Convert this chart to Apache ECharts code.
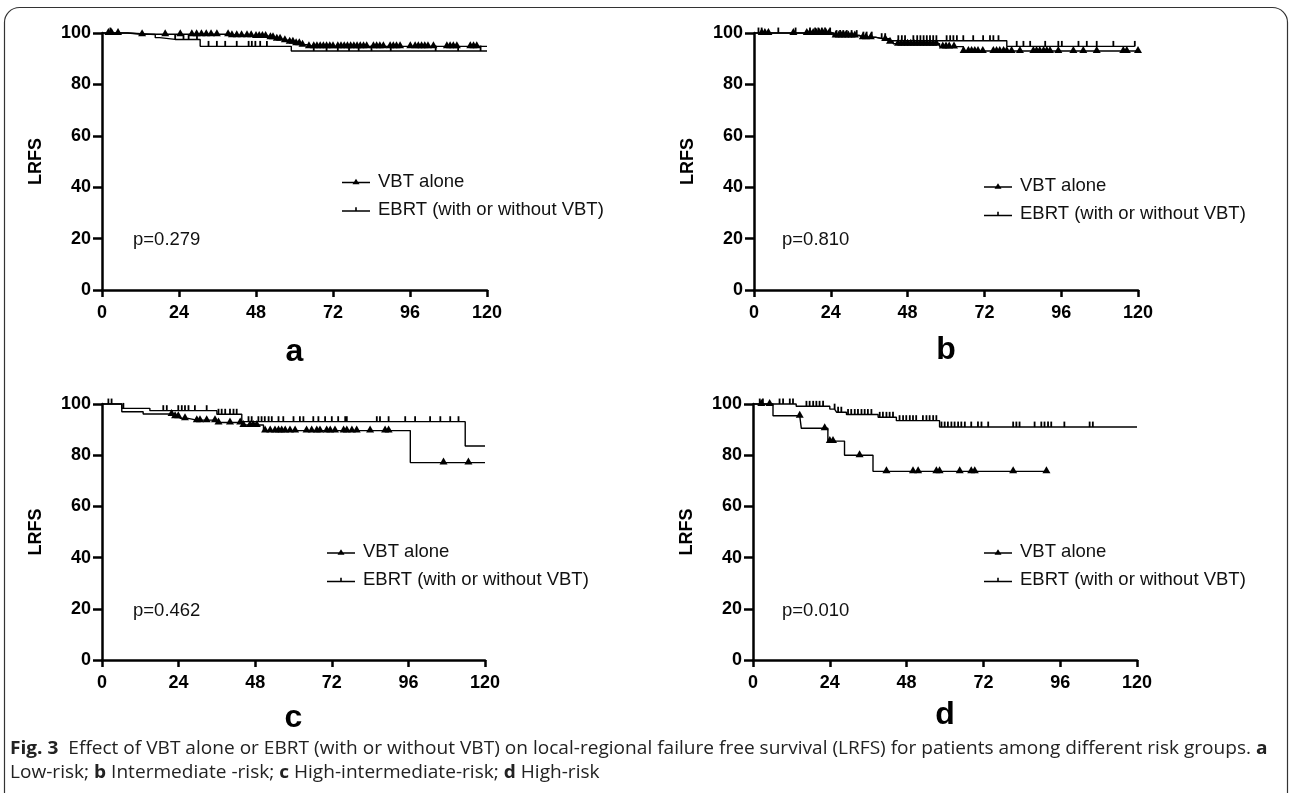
<!DOCTYPE html>
<html>
<head>
<meta charset="utf-8">
<script src="https://cdn.jsdelivr.net/npm/echarts@6/dist/echarts.min.js"></script>
<style>
  html, body { margin: 0; padding: 0; background: #fff; }
  #chart { width: 1290px; height: 793px; }
</style>
</head>
<body>
<div id="chart"></div>
<script>
// ---------------- DATA ----------------
const seriesNames = ['VBT alone', 'EBRT (with or without VBT)'];
const panelLetters = ['a', 'b', 'c', 'd'];
const pValues = ['p=0.279', 'p=0.810', 'p=0.462', 'p=0.010'];
const yAxisTitle = 'LRFS';

// Panel a (Low-risk): step points [month, LRFS %] and censor times (months)
const vbtStepsA = [[0,100],[8,99.5],[40,99.1],[47,98.8],[52,98.3],[54,97.8],[56,97.2],[58,96.6],[60,96],[62,95.4],[64,94.8]];
const vbtCensA = [2,3,5,12.5,19.7,24.4,28,29.5,31,32.5,34,35.8,39.3,40.5,42,43.5,45.2,46.5,48,49,50,51,52.5,53.3,54.5,55.5,57,58.5,59.5,60.5,61.5,62.5,64.5,66,67,68,69,70,71,72,73.5,74.5,75.5,76.5,77.5,78.5,79.5,80.5,81.5,82.5,84.6,85.6,86.6,87.7,89.8,90.8,91.8,92.9,96.1,97.6,98.6,99.6,100.6,101.6,103.3,107.5,108.5,109.5,110.6,114.8,115.8,116.8];
const vbtEndA = 120;
const ebrtStepsA = [[0,100],[8,99.4],[16.6,98.2],[18,97.5],[30.6,94.8],[59,93]];
const ebrtCensA = [2.6,22.8,25.4,27,29.6,33.2,35.8,38.4,42,45.7,46.7,47.8,49.3,51.4,66,70,73.5,77,80,84,90,104,111,118];
const ebrtEndA = 120;

// Panel b (Intermediate-risk)
const vbtStepsB = [[0,100],[24.8,99],[33,98.3],[38,97.7],[42,96.6],[43.5,95.8],[58,94.7],[65.4,93]];
const vbtCensB = [2.4,3.4,4.5,12.3,16.5,17.5,18.5,19.5,20.5,21.5,22.5,23.5,25.5,26.5,27.5,28.5,29.5,30.5,31.5,34,35,36.5,41,42.5,45,46,47,48,49,50,51,52,53,54,55,56,57,59,60,61,62.5,65.5,67,68,69,70,71.5,74.8,75.8,76.8,78,79,80.5,83.1,87.3,88.3,89.3,90.5,91.5,92.5,95.1,99.8,102.9,107.1,115.4,116.5,120];
const vbtEndB = 120;
const ebrtStepsB = [[0,100],[24.8,99],[33,98.4],[38,97.8],[42.5,97],[79,94.8]];
const ebrtCensB = [1.4,2.4,7.6,13,17.5,19.1,20.1,21.2,22.2,23.8,25.8,26.9,27.9,29,30.5,32.1,34.2,35.2,36.8,39.9,41,45.1,46.2,47.2,49.8,51,52,53,54,55,56,57,60.2,61.3,62.3,63.4,65.4,68.5,71.6,73.75,74.8,76.4,82.1,84.2,86.3,91,95.1,96.2,101.4,104,107.1,112.3,119];
const ebrtEndB = 119;

// Panel c (High-intermediate-risk)
const vbtStepsC = [[0,100],[6.2,97],[12.9,96.1],[22.5,95.2],[24.5,94.4],[27,93.7],[36,92.8],[44.3,91.8],[50.6,89.6],[96.6,77.1]];
const vbtCensC = [21.8,22.9,23.9,26,29.7,30.7,32.8,35.4,36.5,40.1,43.3,44.3,46.4,47.4,48.5,51.1,52.7,54.2,55.3,56.3,57.4,58.9,60.5,64.1,65.7,67.3,68.3,70.4,71.5,73,75.7,76.7,78.3,79.8,84,88.7,89.8,107,114.8];
const vbtEndC = 120;
const ebrtStepsC = [[0,100],[6.2,98.3],[15,97.4],[36,96],[43.8,93.1],[113.8,83.6]];
const ebrtCensC = [2,3,6.7,19.2,20.3,23.9,25,26,27.1,29.1,32.8,36.5,37.5,38.6,40.1,41.2,42.2,45.9,46.9,49,50,51,52.2,53.2,55.3,56.8,60,62,63.1,66.2,67.8,69.9,72,74,76.2,76.7,86.1,87.1,89.8,95,98.1,102.8,106,109.1,111.7];
const ebrtEndC = 120;

// Panel d (High-risk)
const vbtStepsD = [[0,100],[6.25,95.4],[15.1,90.5],[23.4,85.5],[28.6,80],[37.5,73.7]];
const vbtCensD = [2.6,5.2,14.6,22.4,24,25,33.3,41.7,50,51.6,57.3,58.3,64.6,68.2,69.3,81.3,91.7];
const vbtEndD = 91.7;
const ebrtStepsD = [[0,100],[13.5,99.1],[24,98],[26.1,96.8],[29.2,95.9],[39.1,94.8],[44.8,93.5],[58.3,91]];
const ebrtCensD = [2.1,3.1,8.3,9.4,11.5,12.5,16.7,17.7,18.8,19.8,20.8,21.9,25.5,26.6,27.6,29.7,30.7,31.8,32.8,33.9,34.9,35.9,37,39.6,40.6,41.7,42.7,43.75,45.8,46.9,47.9,49,50,51,53.1,54.2,55.2,56.3,57.3,58.9,59.9,60.9,62,63,64.1,65.1,66.2,68.2,70.3,71.4,73.5,81.3,82.3,83.3,88,90.1,91.1,92.2,93.2,97.3,105.2,106.2];
const ebrtEndD = 120;

const captionLine1 = '{b|Fig. 3}  Effect of VBT alone or EBRT (with or without VBT) on local-regional failure free survival (LRFS) for patients among different risk groups. {b|a}';
const captionLine2 = 'Low-risk; {b|b} Intermediate -risk; {b|c} High-intermediate-risk; {b|d} High-risk';

// ---------------- LAYOUT ----------------
const grids = [
  { left: 102, top: 33, width: 385, height: 257 },
  { left: 754, top: 33, width: 384, height: 257 },
  { left: 102, top: 404, width: 383, height: 256 },
  { left: 753, top: 404, width: 384, height: 256 }
];
const letterGaps = [46, 44, 42, 39];
const legendPos = [
  { left: 342, top: 172 },
  { left: 984, top: 176.5 },
  { left: 327, top: 542.5 },
  { left: 984, top: 542.5 }
];
const pPos = [[133, 240], [782, 240], [133, 611], [782, 611]];

const curves = [
  [vbtStepsA, vbtCensA, vbtEndA, ebrtStepsA, ebrtCensA, ebrtEndA],
  [vbtStepsB, vbtCensB, vbtEndB, ebrtStepsB, ebrtCensB, ebrtEndB],
  [vbtStepsC, vbtCensC, vbtEndC, ebrtStepsC, ebrtCensC, ebrtEndC],
  [vbtStepsD, vbtCensD, vbtEndD, ebrtStepsD, ebrtCensD, ebrtEndD]
];

function buildCurve(steps, cens, end) {
  const level = t => { let s = steps[0][1]; for (const p of steps) if (p[0] <= t) s = p[1]; return s; };
  const pts = steps.map((p, i) => ({ value: [p[0], p[1]], symbol: 'none', _o: 0, _i: i }));
  cens.forEach((t, i) => pts.push({ value: [t, level(t)], _o: 1, _i: i }));
  pts.push({ value: [end, level(end)], symbol: 'none', _o: 2, _i: 0 });
  pts.sort((a, b) => a.value[0] - b.value[0] || a._o - b._o || a._i - b._i);
  return pts.map(p => { const o = { value: p.value }; if (p.symbol) o.symbol = p.symbol; return o; });
}

const FONT = 'Liberation Sans, Arial, Helvetica, sans-serif';
const vbtIcon = 'path://M0,4.3 L28,4.3 L28,5.7 L0,5.7 Z M10.5,6.7 L14,1.2 L17.5,6.7 Z';
const ebrtIcon = 'path://M0,4.3 L28,4.3 L28,5.7 L0,5.7 Z M13.2,1.2 L14.8,1.2 L14.8,5 L13.2,5 Z';

const xAxes = [], yAxes = [], series = [], legends = [], graphics = [];

grids.forEach((g, i) => {
  xAxes.push({
    type: 'value', gridIndex: i, min: 0, max: 120, interval: 24,
    axisLine: { show: true, onZero: false, lineStyle: { color: '#000', width: 2.5 } },
    axisTick: { show: true, length: 7, lineStyle: { color: '#000', width: 2.5 } },
    axisLabel: { color: '#000', fontWeight: 'bold', fontSize: 18, fontFamily: FONT, margin: 14 },
    splitLine: { show: false },
    name: panelLetters[i], nameLocation: 'middle', nameGap: letterGaps[i],
    nameTextStyle: { color: '#000', fontWeight: 'bold', fontSize: 32, fontFamily: FONT }
  });
  yAxes.push({
    type: 'value', gridIndex: i, min: 0, max: 100, interval: 20,
    axisLine: { show: true, onZero: false, lineStyle: { color: '#000', width: 2.5 } },
    axisTick: { show: true, length: 9, lineStyle: { color: '#000', width: 2.5 } },
    axisLabel: { color: '#000', fontWeight: 'bold', fontSize: 18, fontFamily: FONT, margin: 11 },
    splitLine: { show: false },
    name: yAxisTitle, nameLocation: 'middle', nameGap: 57,
    nameTextStyle: { color: '#000', fontWeight: 'bold', fontSize: 18, fontFamily: FONT }
  });
  const c = curves[i];
  series.push({
    type: 'line', name: seriesNames[0], xAxisIndex: i, yAxisIndex: i, step: 'end',
    data: buildCurve(c[0], c[1], c[2]),
    symbol: 'triangle', symbolSize: [8, 7], symbolOffset: [0, -1.5],
    showAllSymbol: true, clip: false, animation: false, silent: true,
    lineStyle: { color: '#000', width: 1.4 }, itemStyle: { color: '#000' },
    emphasis: { disabled: true }, z: 3
  });
  series.push({
    type: 'line', name: seriesNames[1], xAxisIndex: i, yAxisIndex: i, step: 'end',
    data: buildCurve(c[3], c[4], c[5]),
    symbol: 'rect', symbolSize: [1.8, 5.5], symbolOffset: [0, -2.7],
    showAllSymbol: true, clip: false, animation: false, silent: true,
    lineStyle: { color: '#000', width: 1.4 }, itemStyle: { color: '#000' },
    emphasis: { disabled: true }, z: 2
  });
  legends.push({
    show: true, orient: 'vertical', left: legendPos[i].left, top: legendPos[i].top,
    padding: 0, itemWidth: 28, itemHeight: 8, itemGap: 9, selectedMode: false,
    data: [{ name: seriesNames[0], icon: vbtIcon }, { name: seriesNames[1], icon: ebrtIcon }],
    textStyle: { color: '#111', fontSize: 18.5, fontFamily: FONT, padding: [0, 0, 0, 3] }
  });
  graphics.push({
    type: 'text', x: pPos[i][0], y: pPos[i][1],
    style: { text: pValues[i], fill: '#111', font: '18.5px ' + FONT, textVerticalAlign: 'middle', verticalAlign: 'middle' }
  });
});

// frame
graphics.push({
  type: 'rect', shape: { x: 4.5, y: 7.5, width: 1283, height: 830, r: [15, 15, 0, 0] },
  style: { fill: 'none', stroke: '#333', lineWidth: 1.2 }, silent: true
});
const capFont = 'Open Sans, Noto Sans, sans-serif';
const capSize = 18;
const capStretch = 1.06;
graphics.push({
  type: 'text', x: 10, y: 749, scaleX: capStretch,
  style: {
    text: captionLine1, fill: '#222', fontSize: capSize, fontFamily: capFont, verticalAlign: 'middle',
    rich: { b: { fontWeight: 'bold', fontSize: capSize, fontFamily: capFont, fill: '#222' } }
  }
});
graphics.push({
  type: 'text', x: 10, y: 773, scaleX: capStretch,
  style: {
    text: captionLine2, fill: '#222', fontSize: capSize, fontFamily: capFont, verticalAlign: 'middle',
    rich: { b: { fontWeight: 'bold', fontSize: capSize, fontFamily: capFont, fill: '#222' } }
  }
});

const chart = echarts.init(document.getElementById('chart'), null, { renderer: 'canvas' });
chart.setOption({
  backgroundColor: '#fff',
  animation: false,
  grid: grids,
  xAxis: xAxes,
  yAxis: yAxes,
  legend: legends,
  series: series,
  graphic: graphics
});
</script>
</body>
</html>
